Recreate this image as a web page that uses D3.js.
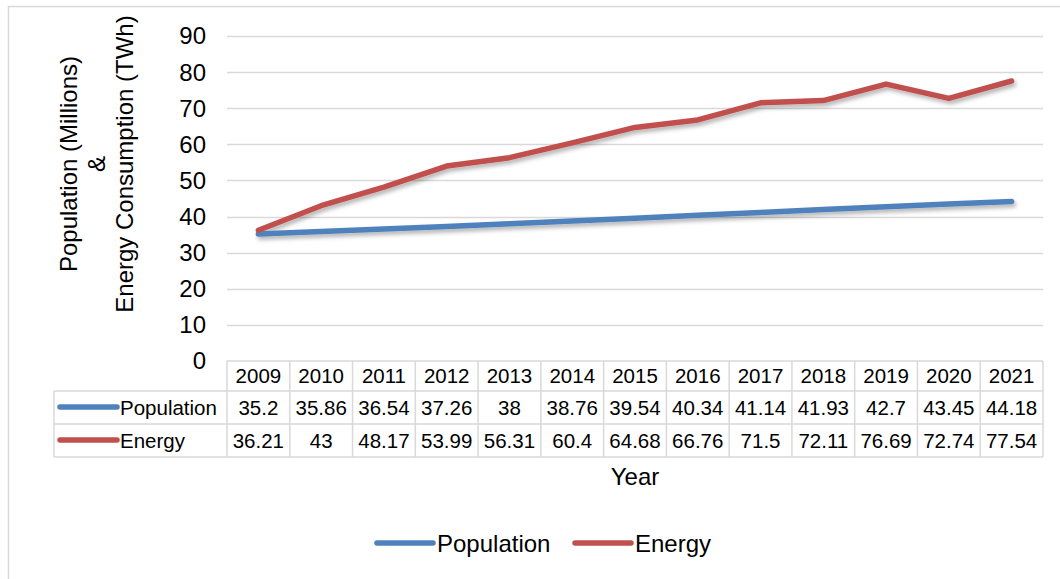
<!DOCTYPE html>
<html>
<head>
<meta charset="utf-8">
<script src="https://cdn.jsdelivr.net/npm/d3@7"></script>
<style>
  body { margin: 0; background: #fff; }
  svg { display: block; font-family: Arial, "Liberation Sans", sans-serif; }
</style>
</head>
<body>
<div id="chart"></div>
<script>
// data
const years = ["2009", "2010", "2011", "2012", "2013", "2014", "2015", "2016", "2017", "2018", "2019", "2020", "2021"];
const population = [35.2, 35.86, 36.54, 37.26, 38, 38.76, 39.54, 40.34, 41.14, 41.93, 42.7, 43.45, 44.18];
const energy = [36.21, 43, 48.17, 53.99, 56.31, 60.4, 64.68, 66.76, 71.5, 72.11, 76.69, 72.74, 77.54];
const yTicks = [0, 10, 20, 30, 40, 50, 60, 70, 80, 90];

const series = [
  {name: "Population", values: population, color: "#4f81bd"},
  {name: "Energy", values: energy, color: "#c0504d"}
];

const width = 1060, height = 579;
const plot = {left: 227, right: 1043, top: 36, bottom: 361};
const rowH = [30, 33, 33];   // header, population, energy
const legendLeft = 54;
const grid = "#d9d9d9";

const svg = d3.select("#chart").append("svg")
    .attr("width", width)
    .attr("height", height);

const defs = svg.append("defs");
defs.append("filter")
    .attr("id", "shadow")
    .attr("x", "-5%").attr("y", "-20%")
    .attr("width", "110%").attr("height", "140%")
  .append("feDropShadow")
    .attr("dx", 2).attr("dy", 3)
    .attr("stdDeviation", 2)
    .attr("flood-color", "#000")
    .attr("flood-opacity", 0.3);

// outer chart frame (runs off the right and bottom edge)
svg.append("rect")
    .attr("x", 8.5).attr("y", 6.5)
    .attr("width", 1100).attr("height", 620)
    .attr("fill", "#fff")
    .attr("stroke", grid)
    .attr("stroke-width", 1.5);

const x = d3.scaleBand()
    .domain(years)
    .range([plot.left, plot.right]);

const y = d3.scaleLinear()
    .domain([0, 90])
    .range([plot.bottom, plot.top]);

// gridlines
svg.append("g")
  .selectAll("line")
  .data(yTicks.filter(d => d > 0))
  .join("line")
    .attr("x1", plot.left).attr("x2", plot.right)
    .attr("y1", d => Math.round(y(d)) + 0.5)
    .attr("y2", d => Math.round(y(d)) + 0.5)
    .attr("stroke", grid)
    .attr("stroke-width", 1.5);

// y axis labels
svg.append("g")
  .selectAll("text")
  .data(yTicks)
  .join("text")
    .attr("x", 206)
    .attr("y", d => y(d))
    .attr("dy", "0.35em")
    .attr("text-anchor", "end")
    .attr("font-size", 24)
    .attr("fill", "#000")
    .text(d => d);

// y axis title, three lines
const title = ["Population (Millions)", "&", "Energy Consumption (TWh)"];
svg.append("text")
    .attr("transform", "translate(96,164) rotate(-90)")
    .attr("text-anchor", "middle")
    .attr("font-size", 24)
    .attr("fill", "#000")
  .selectAll("tspan")
  .data(title)
  .join("tspan")
    .attr("x", 0)
    .attr("y", (d, i) => (i - 1) * 28 + 8.5)
    .text(d => d);

// lines
const line = d3.line()
    .x((d, i) => x(years[i]) + x.bandwidth() / 2)
    .y(d => y(d));

svg.append("g")
    .attr("filter", "url(#shadow)")
  .selectAll("path")
  .data(series)
  .join("path")
    .attr("d", d => line(d.values))
    .attr("fill", "none")
    .attr("stroke", d => d.color)
    .attr("stroke-width", 5.5)
    .attr("stroke-linejoin", "round")
    .attr("stroke-linecap", "round");

// data table
const rowY = [plot.bottom, plot.bottom + rowH[0], plot.bottom + rowH[0] + rowH[1], plot.bottom + rowH[0] + rowH[1] + rowH[2]];
const table = svg.append("g")
    .attr("stroke", grid)
    .attr("stroke-width", 1.5)
    .attr("fill", "none");

// horizontal rules
table.append("line")
    .attr("x1", plot.left).attr("x2", plot.right)
    .attr("y1", rowY[0]).attr("y2", rowY[0]);
[1, 2, 3].forEach(r => {
  table.append("line")
      .attr("x1", legendLeft).attr("x2", plot.right)
      .attr("y1", rowY[r]).attr("y2", rowY[r]);
});
// vertical rules
table.selectAll("line.v")
  .data(years.map(d => x(d)).concat([plot.right]))
  .join("line")
    .attr("class", "v")
    .attr("x1", d => d).attr("x2", d => d)
    .attr("y1", rowY[0]).attr("y2", rowY[3]);
table.append("line")
    .attr("x1", legendLeft).attr("x2", legendLeft)
    .attr("y1", rowY[1]).attr("y2", rowY[3]);

// header years
svg.append("g")
  .selectAll("text")
  .data(years)
  .join("text")
    .attr("x", d => x(d) + x.bandwidth() / 2)
    .attr("y", (rowY[0] + rowY[1]) / 2)
    .attr("dy", "0.36em")
    .attr("text-anchor", "middle")
    .attr("font-size", 20.5)
    .text(d => d);

// series rows
series.forEach((s, r) => {
  const cy = (rowY[r + 1] + rowY[r + 2]) / 2;
  const g = svg.append("g");
  g.append("line")
      .attr("x1", 60).attr("x2", 117)
      .attr("y1", cy - 0.5).attr("y2", cy - 0.5)
      .attr("stroke", s.color)
      .attr("stroke-width", 5.5)
      .attr("stroke-linecap", "round");
  g.append("text")
      .attr("x", 120)
      .attr("y", cy)
      .attr("dy", "0.36em")
      .attr("font-size", 20.5)
      .text(s.name);
  g.selectAll("text.v")
    .data(s.values)
    .join("text")
      .attr("class", "v")
      .attr("x", (d, i) => x(years[i]) + x.bandwidth() / 2)
      .attr("y", cy)
      .attr("dy", "0.36em")
      .attr("text-anchor", "middle")
      .attr("font-size", 20.5)
      .text(d => d);
});

// x axis title
svg.append("text")
    .attr("x", (plot.left + plot.right) / 2)
    .attr("y", 476)
    .attr("dy", "0.36em")
    .attr("text-anchor", "middle")
    .attr("font-size", 24)
    .text("Year");

// bottom legend
const legendItems = [
  {name: "Population", color: "#4f81bd", x: 377},
  {name: "Energy", color: "#c0504d", x: 575}
];
const lg = svg.append("g")
  .selectAll("g")
  .data(legendItems)
  .join("g")
    .attr("transform", d => `translate(${d.x},543)`);
lg.append("line")
    .attr("x1", 0).attr("x2", 56)
    .attr("stroke", d => d.color)
    .attr("stroke-width", 5.5)
    .attr("stroke-linecap", "round");
lg.append("text")
    .attr("x", 60)
    .attr("dy", "0.36em")
    .attr("font-size", 24)
    .text(d => d.name);
</script>
</body>
</html>
